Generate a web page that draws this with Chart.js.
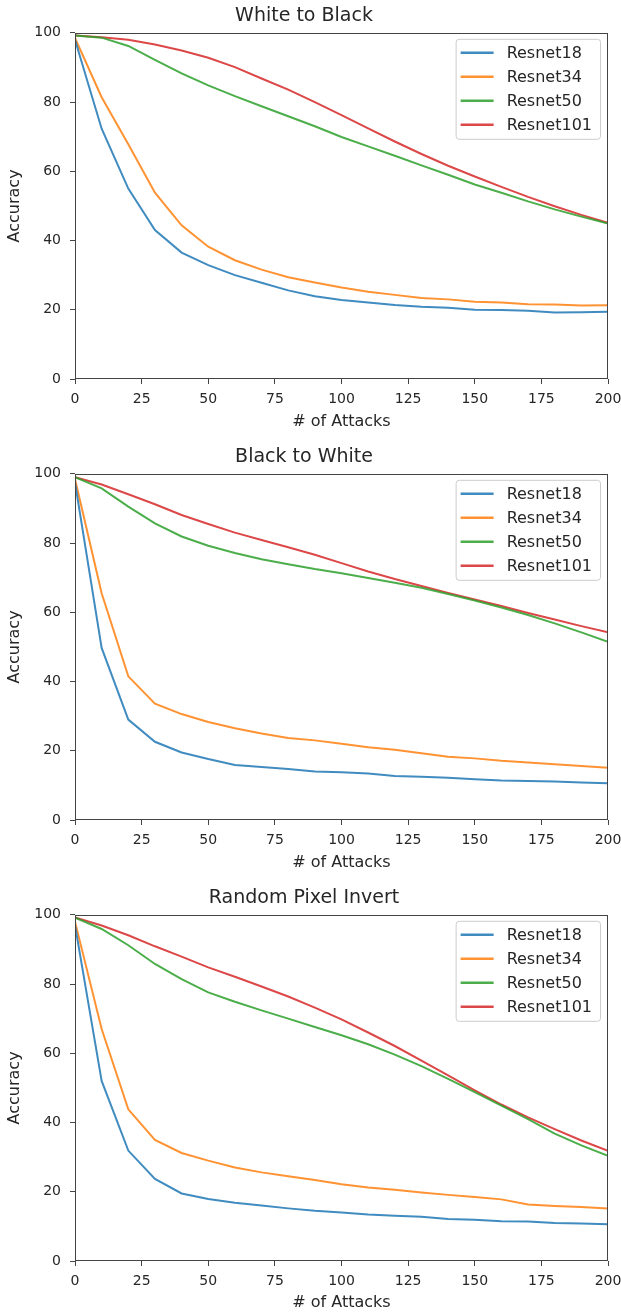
<!DOCTYPE html>
<html>
<head>
<meta charset="utf-8">
<script src="https://cdn.jsdelivr.net/npm/chart.js@4.4.0/dist/chart.umd.min.js"></script>
<style>
html, body { margin: 0; padding: 0; background: #fff; overflow: hidden; }
canvas { display: block; }
</style>
</head>
<body>
<canvas id="c1" width="621" height="441"></canvas>
<canvas id="c2" width="621" height="441"></canvas>
<canvas id="c3" width="621" height="430"></canvas>
<script>
// x values: number of attacks
const attacks = [0, 10, 20, 30, 40, 50, 60, 70, 80, 90, 100, 110, 120, 130, 140, 150, 160, 170, 180, 190, 200];
const xTicks = [0, 25, 50, 75, 100, 125, 150, 175, 200];
const yTicks = [0, 20, 40, 60, 80, 100];
const modelNames = ['Resnet18', 'Resnet34', 'Resnet50', 'Resnet101'];
const modelColors = ['rgba(31,119,180,0.85)', 'rgba(255,127,14,0.85)', 'rgba(44,160,44,0.85)', 'rgba(214,39,40,0.85)'];

// White to Black
const w2bResnet18 = [98, 72.3, 55, 43, 36.5, 32.9, 30, 27.8, 25.6, 23.9, 22.8, 22.1, 21.4, 20.9, 20.6, 20, 19.9, 19.7, 19.2, 19.3, 19.4];
const w2bResnet34 = [98.5, 81.4, 67.8, 53.8, 44.4, 38.2, 34.3, 31.6, 29.4, 27.9, 26.4, 25.2, 24.3, 23.4, 23, 22.3, 22.1, 21.6, 21.5, 21.2, 21.3];
const w2bResnet50 = [99.2, 98.6, 96.2, 92.2, 88.3, 84.8, 81.7, 78.8, 75.9, 73, 69.9, 67.2, 64.5, 61.7, 59, 56.2, 53.8, 51.3, 49, 46.9, 44.9];
const w2bResnet101 = [99.2, 98.7, 98, 96.6, 94.9, 92.8, 90.1, 86.8, 83.6, 80, 76.2, 72.4, 68.6, 65, 61.6, 58.5, 55.5, 52.6, 49.9, 47.4, 45.1];

// Black to White
const b2wResnet18 = [97.5, 49.7, 29, 22.6, 19.5, 17.6, 15.9, 15.3, 14.7, 14, 13.8, 13.4, 12.7, 12.5, 12.2, 11.8, 11.4, 11.3, 11.1, 10.8, 10.6];
const b2wResnet34 = [98.5, 65.5, 41.5, 33.6, 30.6, 28.3, 26.5, 25, 23.7, 23, 22, 21, 20.3, 19.3, 18.3, 17.8, 17.1, 16.6, 16.1, 15.6, 15.1];
const b2wResnet50 = [99, 95.8, 90.5, 85.7, 81.9, 79.2, 77.1, 75.3, 73.9, 72.5, 71.3, 69.9, 68.5, 67.1, 65.3, 63.4, 61.4, 59.2, 56.8, 54.2, 51.5];
const b2wResnet101 = [99, 96.9, 94.1, 91.2, 88.1, 85.5, 83, 80.9, 78.8, 76.6, 74.2, 71.8, 69.6, 67.6, 65.6, 63.7, 61.8, 59.8, 57.9, 56, 54.2];

// Random Pixel Invert
const rpiResnet18 = [97, 52, 31.9, 23.7, 19.5, 17.9, 16.8, 16, 15.2, 14.5, 14, 13.4, 13.1, 12.8, 12.1, 11.9, 11.5, 11.4, 11, 10.8, 10.6];
const rpiResnet34 = [98, 67, 43.8, 35, 31.2, 29, 27, 25.6, 24.5, 23.4, 22.2, 21.2, 20.6, 19.8, 19.1, 18.5, 17.8, 16.3, 15.9, 15.6, 15.2];
const rpiResnet50 = [99.2, 95.9, 91.2, 85.8, 81.4, 77.6, 74.9, 72.4, 70, 67.6, 65.2, 62.6, 59.6, 56.3, 52.6, 48.8, 44.9, 41, 36.8, 33.4, 30.4];
const rpiResnet101 = [99.2, 96.9, 94.1, 90.9, 87.9, 84.8, 82.1, 79.3, 76.4, 73.2, 69.8, 66, 62.1, 57.9, 53.6, 49.3, 45.2, 41.5, 38.1, 34.8, 31.8];

const FONT = '"DejaVu Sans", sans-serif';
const TEXT = '#262626';
const SPINE = '#444';

// Draws the box round the plot and the legend in the upper right corner
const framePlugin = {
    id: 'frameAndLegend',
    afterDraw(chart) {
        const ctx = chart.ctx;
        const a = chart.chartArea;
        ctx.save();
        ctx.strokeStyle = SPINE;
        ctx.lineWidth = 1;
        ctx.strokeRect(Math.round(a.left) + 0.5, Math.round(a.top) + 0.5,
            Math.round(a.right - a.left) - 1, Math.round(a.bottom - a.top) - 1);

        ctx.font = '16px ' + FONT;
        const textW = Math.max(...modelNames.map(n => ctx.measureText(n).width));
        const bw = 51 + textW + 8;
        const bh = 100;
        const bx = a.right - 8 - bw;
        const by = a.top + 6;
        ctx.beginPath();
        ctx.roundRect(bx + 0.5, by + 0.5, bw, bh, 3);
        ctx.fillStyle = 'rgba(255,255,255,0.8)';
        ctx.fill();
        ctx.strokeStyle = '#cccccc';
        ctx.stroke();

        modelNames.forEach((name, i) => {
            const y = by + 14 + 24 * i;
            ctx.strokeStyle = modelColors[i];
            ctx.lineWidth = 2.5;
            ctx.beginPath();
            ctx.moveTo(bx + 5, y);
            ctx.lineTo(bx + 38, y);
            ctx.stroke();
            ctx.fillStyle = TEXT;
            ctx.textBaseline = 'middle';
            ctx.fillText(name, bx + 51, y + 1);
        });
        ctx.restore();
    }
};

function makeChart(id, title, series, xTitleGap) {
    const canvas = document.getElementById(id);
    new Chart(canvas.getContext('2d'), {
        type: 'line',
        data: {
            datasets: series.map((values, i) => ({
                label: modelNames[i],
                data: attacks.map((x, j) => ({ x: x, y: values[j] })),
                borderColor: modelColors[i],
                borderWidth: 2,
                pointRadius: 0,
                fill: false,
                tension: 0
            }))
        },
        options: {
            responsive: false,
            animation: false,
            layout: { padding: { left: 0, right: 13, top: 0, bottom: 0 } },
            plugins: {
                legend: { display: false },
                tooltip: { enabled: false },
                title: {
                    display: true,
                    text: title,
                    color: TEXT,
                    font: { family: FONT, size: 19, weight: 'normal' },
                    padding: { top: 5, bottom: 5 }
                }
            },
            scales: {
                x: {
                    type: 'linear',
                    min: 0,
                    max: 200,
                    afterBuildTicks: scale => { scale.ticks = xTicks.map(v => ({ value: v })); },
                    afterFit: scale => {
                        scale.height = canvas.height - 379;
                        scale.paddingRight = 0;
                        scale.paddingLeft = 0;
                    },
                    grid: { drawOnChartArea: false, drawTicks: true, tickLength: 5, color: SPINE },
                    border: { display: false },
                    ticks: { color: TEXT, font: { family: FONT, size: 14 }, padding: 7, maxRotation: 0 },
                    title: {
                        display: true,
                        text: '# of Attacks',
                        color: TEXT,
                        font: { family: FONT, size: 16 },
                        padding: { top: 0, bottom: xTitleGap }
                    }
                },
                y: {
                    min: 0,
                    max: 100,
                    afterBuildTicks: scale => { scale.ticks = yTicks.map(v => ({ value: v })); },
                    afterFit: scale => { scale.width = 75; },
                    grid: { drawOnChartArea: false, drawTicks: true, tickLength: 5, color: SPINE },
                    border: { display: false },
                    ticks: { color: TEXT, font: { family: FONT, size: 14 }, padding: 9 },
                    title: {
                        display: true,
                        text: 'Accuracy',
                        color: TEXT,
                        font: { family: FONT, size: 16 },
                        padding: { top: 5, bottom: 0 }
                    }
                }
            }
        },
        plugins: [framePlugin]
    });
}

makeChart('c1', 'White to Black', [w2bResnet18, w2bResnet34, w2bResnet50, w2bResnet101], 10);
makeChart('c2', 'Black to White', [b2wResnet18, b2wResnet34, b2wResnet50, b2wResnet101], 10);
makeChart('c3', 'Random Pixel Invert', [rpiResnet18, rpiResnet34, rpiResnet50, rpiResnet101], 0);
</script>
</body>
</html>
